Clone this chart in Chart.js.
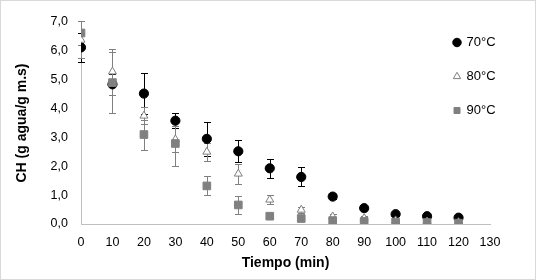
<!DOCTYPE html>
<html lang="es">
<head>
<meta charset="UTF-8">
<title>CH vs Tiempo</title>
<script src="https://cdn.jsdelivr.net/npm/chart.js"></script>
<style>
  * { margin: 0; padding: 0; box-sizing: border-box; }
  body { background: #fff; width: 536px; height: 280px; overflow: hidden; }
  .wrap { position: relative; width: 536px; height: 280px; }
  .frame { position: absolute; inset: 0; border: 1px solid #d9d9d9; pointer-events: none; }
  canvas { position: absolute; left: 0; top: 0; }
</style>
</head>
<body>
<div class="wrap">
  <canvas id="chart" width="536" height="280"></canvas>
  <div class="frame"></div>
</div>
<script>
  // tiempo (min)
  const tiempos = [0, 10, 20, 30, 40, 50, 60, 70, 80, 90, 100, 110, 120];

  // CH (g agua/g m.s) y desviaciones
  const ch70 = [6.12, 4.84, 4.52, 3.58, 2.95, 2.52, 1.93, 1.63, 0.95, 0.55, 0.34, 0.27, 0.22];
  const err70 = [0.5, 0.36, 0.7, 0.27, 0.6, 0.38, 0.33, 0.33, 0.1, 0.06, 0.05, 0.04, 0.03];
  const ch80 = [6.38, 5.28, 3.75, 2.93, 2.5, 1.74, 0.84, 0.49, 0.26, 0.2, 0.12, 0.08, 0.06];
  const err80 = [0.64, 0.8, 0.3, 0.45, 0.3, 0.35, 0.15, 0.1, 0.08, 0.07, 0.04, 0.03, 0.02];
  const ch90 = [6.62, 4.9, 3.1, 2.79, 1.32, 0.66, 0.27, 0.19, 0.12, 0.09, 0.07, 0.05, 0.03];
  const err90 = [0.42, 1.05, 0.52, 0.77, 0.33, 0.3, 0.05, 0.04, 0.03, 0.02, 0.02, 0.01, 0.01];

  const font = "'Liberation Sans', Arial, sans-serif";
  const toPts = vals => vals.map((v, i) => ({ x: tiempos[i], y: v }));

  // barras de error verticales, debajo de los marcadores
  const errorBars = {
    id: 'errorBars',
    beforeDatasetsDraw(chart) {
      const { ctx, scales: { x, y } } = chart;
      chart.data.datasets.forEach(ds => {
        ctx.save();
        ctx.strokeStyle = ds.errorColor;
        ctx.lineWidth = 1;
        ds.data.forEach((p, j) => {
          const e = ds.errors[j];
          const px = Math.round(x.getPixelForValue(p.x)) + 0.5;
          const top = Math.round(y.getPixelForValue(p.y + e)) + 0.5;
          const bot = Math.round(y.getPixelForValue(p.y - e)) + 0.5;
          ctx.beginPath();
          ctx.moveTo(px, top); ctx.lineTo(px, bot);
          ctx.moveTo(px - 3.5, top); ctx.lineTo(px + 3.5, top);
          ctx.moveTo(px - 3.5, bot); ctx.lineTo(px + 3.5, bot);
          ctx.stroke();
        });
        ctx.restore();
      });
    }
  };

  // leyenda dentro del área del gráfico, arriba a la derecha
  const legendSpot = {
    id: 'legendSpot',
    afterLayout(chart) {
      const lg = chart.legend;
      const w = lg.width, h = lg.height;
      lg.left = 433; lg.right = 433 + w;
      lg.top = 15; lg.bottom = 15 + h;
    }
  };

  new Chart(document.getElementById('chart'), {
    type: 'scatter',
    data: {
      datasets: [
        { label: '70°C', data: toPts(ch70), errors: err70, errorColor: '#000000',
          pointStyle: 'circle', radius: 4.6, backgroundColor: '#000000', borderColor: '#000000',
          borderWidth: 1, order: 3 },
        { label: '80°C', data: toPts(ch80), errors: err80, errorColor: '#808080',
          pointStyle: 'triangle', radius: 4.6, backgroundColor: '#ffffff', borderColor: '#7f7f7f',
          borderWidth: 1, order: 2 },
        { label: '90°C', data: toPts(ch90), errors: err90, errorColor: '#808080',
          pointStyle: 'rect', radius: 5.4, backgroundColor: '#808080', borderColor: '#808080',
          borderWidth: 1, order: 1 }
      ]
    },
    options: {
      responsive: false,
      animation: false,
      layout: { padding: { left: 0, right: 46, top: 22, bottom: 0 } },
      plugins: {
        tooltip: { enabled: false },
        legend: {
          position: 'chartArea',
          align: 'start',
          reverse: true,
          labels: {
            usePointStyle: true,
            boxWidth: 6,
            boxHeight: 6,
            padding: 21,
            color: '#000000',
            font: { family: font, size: 13 }
          }
        }
      },
      scales: {
        x: {
          type: 'linear',
          min: 0, max: 130,
          grid: { display: false, drawTicks: false },
          border: { display: true, color: '#bfbfbf', width: 1 },
          ticks: { stepSize: 10, padding: 11, color: '#000000', font: { family: font, size: 12.5 } },
          title: { display: true, text: 'Tiempo (min)', color: '#000000',
                   font: { family: font, size: 14, weight: 'bold' }, padding: { top: 0, bottom: 8 } },
          afterFit(scale) { scale.height = 56; }
        },
        y: {
          min: 0, max: 7,
          grid: { display: false, drawTicks: false },
          border: { display: true, color: '#bfbfbf', width: 1 },
          ticks: { stepSize: 1, padding: 13, color: '#000000', font: { family: font, size: 12.5 },
                   callback: v => v.toFixed(1).replace('.', ',') },
          title: { display: true, text: 'CH (g agua/g m.s)', color: '#000000',
                   font: { family: font, size: 14, weight: 'bold' }, padding: { top: 14, bottom: 0 } },
          afterFit(scale) { scale.width = 81; }
        }
      }
    },
    plugins: [errorBars, legendSpot]
  });
</script>
</body>
</html>
